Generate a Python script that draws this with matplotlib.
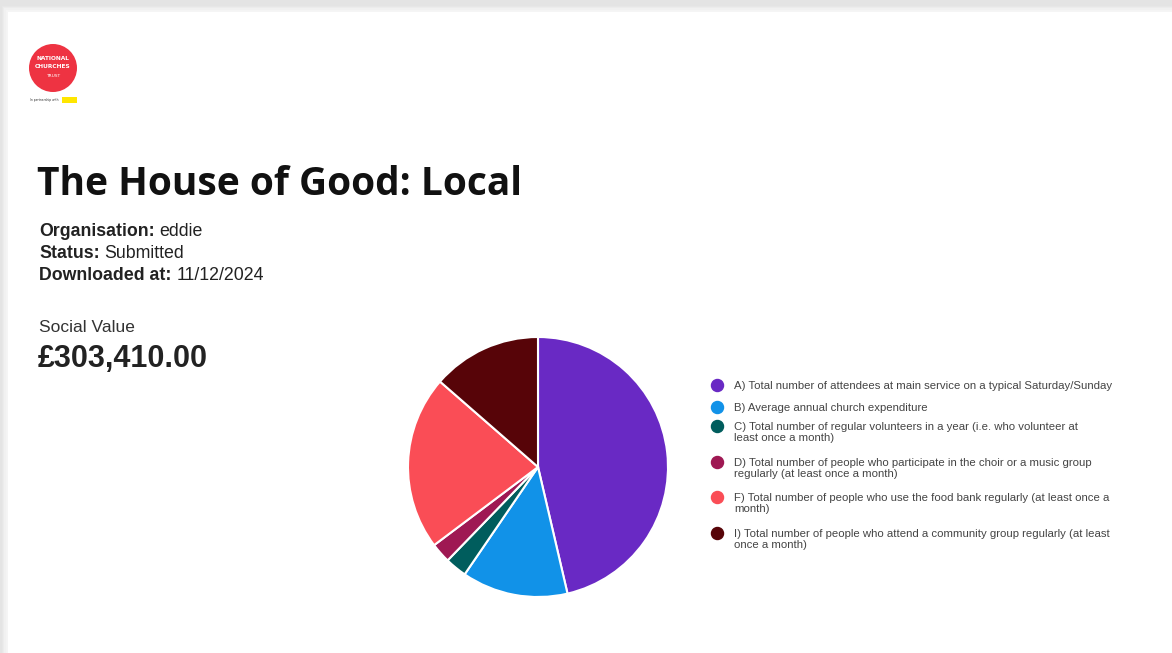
#! /usr/bin/env python3
# -*- coding:utf-8 -*-

"""
The House of Good: Local - social value pie chart
"""

import matplotlib
matplotlib.use('Agg')
import matplotlib.pyplot as plt
from matplotlib.patches import Rectangle, Circle

# datos (porcentaje aproximado de cada categoria)
labels = [
    'A) Total number of attendees at main service on a typical Saturday/Sunday',
    'B) Average annual church expenditure',
    'C) Total number of regular volunteers in a year (i.e. who volunteer at\nleast once a month)',
    'D) Total number of people who participate in the choir or a music group\nregularly (at least once a month)',
    'F) Total number of people who use the food bank regularly (at least once a\nmonth)',
    'I) Total number of people who attend a community group regularly (at least\nonce a month)',
]
values = [46.4, 13.2, 2.7, 2.5, 21.7, 13.6]
colors = ['#6929c4', '#1192e8', '#005d5d', '#9f1853', '#fa4d56', '#570408']

organisation = 'eddie'
status = 'Submitted'
downloaded = '11/12/2024'
social_value = '£303,410.00'

W, H = 1172, 653
fig = plt.figure(figsize=(W / 100, H / 100), dpi=100)
fig.patch.set_facecolor('#e4e4e4')

# capa base en pixeles
bg = fig.add_axes([0, 0, 1, 1])
bg.set_xlim(0, W)
bg.set_ylim(H, 0)
bg.axis('off')

# sombra + tarjeta blanca
for i, a in enumerate([0.2, 0.35, 0.5, 0.7, 0.9]):
    off = 6 - i * 1.2
    bg.add_patch(Rectangle((8 - off, 12 - off), W, H, color='#f6f6f6', alpha=a, lw=0))
bg.add_patch(Rectangle((8, 12), W, H, color='white', lw=0))

# logo
bg.add_patch(Circle((53, 68), 24, color='#ee3342', lw=0))
bg.text(53, 59, 'NATIONAL', color='white', fontsize=4.2, fontweight='bold', ha='center', va='center', family='Liberation Sans Narrow')
bg.text(53, 67, 'CHURCHES', color='white', fontsize=4.2, fontweight='bold', ha='center', va='center', family='Liberation Sans Narrow')
bg.text(53, 76, 'TRUST', color='white', fontsize=3.2, ha='center', va='center')
bg.text(30, 100, 'In partnership with', color='#333333', fontsize=2.2, ha='left', va='center')
bg.add_patch(Rectangle((62, 97), 15, 6, color='#ffe600', lw=0))

# titulo
bg.text(37, 195, 'The House of Good: Local', fontsize=28, fontweight='bold',
        family='Open Sans', color='#111111', ha='left', va='baseline')

# info
rows = [('Organisation:', organisation), ('Status:', status), ('Downloaded at:', downloaded)]
ys = [232, 253, 275]
for (k, v), y in zip(rows, ys):
    t = bg.text(39, y, k, fontsize=12.8, fontweight='bold', family='Liberation Sans',
                color='#222222', va='center', ha='left')
    fig.canvas.draw()
    bb = t.get_window_extent()
    bg.text(bb.x1 + 5, y, v, fontsize=12.8, family='Liberation Sans',
            color='#222222', va='center', ha='left')

bg.text(39, 327, 'Social Value', fontsize=12.5, family='Liberation Sans', color='#333333', va='center')
bg.text(38, 359, social_value, fontsize=22, fontweight='bold', family='Liberation Sans',
        color='#222222', va='center')

# pie
cx, cy, r = 538, 467, 130
ax = fig.add_axes([(cx - r) / W, (H - cy - r) / H, 2 * r / W, 2 * r / H])
ax.pie(values, colors=colors, startangle=90, counterclock=False,
       wedgeprops={'edgecolor': 'white', 'linewidth': 1.5})
ax.set_aspect('auto')
ax.set_xlim(-1.0, 1.0)
ax.set_ylim(-1.0, 1.0)

# leyenda
ly = [386, 408, 427, 463, 498, 534]
for lab, col, y in zip(labels, colors, ly):
    bg.scatter([717], [y - 1], s=75, color=col, zorder=5)
    bg.text(734, y - 5, lab, fontsize=8.2, family='Liberation Sans', color='#444444',
            va='top', ha='left', linespacing=1.15)

fig.savefig('out.png', dpi=100, facecolor=fig.get_facecolor())
